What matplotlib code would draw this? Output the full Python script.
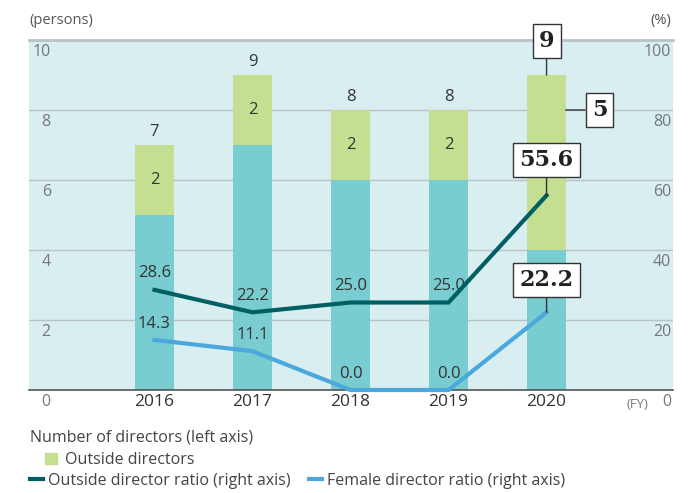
import numpy as np
import matplotlib.pyplot as plt
from matplotlib.patches import Patch
from matplotlib.lines import Line2D

plt.rcParams['font.family'] = ['Open Sans', 'DejaVu Sans']

years = ['2016', '2017', '2018', '2019', '2020']
inside = [5, 7, 6, 6, 4]
outside = [2, 2, 2, 2, 5]
totals = [7, 9, 8, 8, 9]
outside_ratio = [28.6, 22.2, 25.0, 25.0, 55.6]
female_ratio = [14.3, 11.1, 0.0, 0.0, 22.2]

c_inside = '#79cccf'
c_outside = '#c5df92'
c_bg = '#d8eef1'
c_out_line = '#005f63'
c_fem_line = '#4aa8dc'
c_tick = '#777777'

fig = plt.figure(figsize=(6.9, 4.93), dpi=100)
ax = fig.add_axes([29 / 690, 1 - 390 / 493, 644 / 690, 350 / 493])
ax.set_facecolor(c_bg)

x = np.arange(len(years))
w = 0.39
ax.bar(x, inside, w, color=c_inside, zorder=2)
ax.bar(x, outside, w, bottom=inside, color=c_outside, zorder=2)

ax.set_xlim(-1.28, 5.29)
ax.set_ylim(0, 10)
ax.set_yticks([])
ax.set_xticks(x)
ax.set_xticklabels(years, fontsize=12.5, color='#333333')
ax.tick_params(axis='x', length=0, pad=3)
for g in [2, 4, 6, 8]:
    ax.axhline(g, color='#b9c3c6', lw=1, zorder=1)
for s in ['left', 'right']:
    ax.spines[s].set_visible(False)
ax.spines['top'].set_color('#b9c3c6')
ax.spines['top'].set_linewidth(2)
ax.spines['bottom'].set_color('#555555')
ax.spines['bottom'].set_linewidth(1.2)

# axis labels drawn inside the plot area
for v in [0, 2, 4, 6, 8, 10]:
    ax.text(-1.24 if v == 10 else -1.15, v - 0.35, str(v), ha='left', va='center',
            fontsize=11.5, color=c_tick)
    ax.text(5.27, v - 0.35, str(v * 10), ha='right', va='center',
            fontsize=11.5, color=c_tick)
ax.text(-1.28, 10.55, '(persons)', ha='left', va='center', fontsize=10.5, color='#555555')
ax.text(5.27, 10.55, '(%)', ha='right', va='center', fontsize=10.5, color='#555555')
ax.text(4.93, -0.42, '(FY)', ha='center', va='center', fontsize=9.5, color=c_tick)

# bar labels
for i in range(4):
    ax.text(x[i], inside[i] + outside[i] / 2, str(outside[i]), ha='center', va='center',
            fontsize=12, color='#333333', zorder=5)
    ax.text(x[i], totals[i] + 0.38, str(totals[i]), ha='center', va='center',
            fontsize=12, color='#333333', zorder=5)

box = dict(boxstyle='square,pad=0.28', fc='white', ec='#333333', lw=1)
bfont = dict(family='DejaVu Serif', fontweight='bold', fontsize=16, color='#222222')
arr = dict(arrowstyle='-', color='#333333', lw=1, shrinkA=0, shrinkB=0)
ax.annotate(str(totals[4]), xy=(x[4], totals[4]), xytext=(x[4], 9.97), ha='center',
            va='center', bbox=box, arrowprops=arr, annotation_clip=False, zorder=6, **bfont)
ax.annotate(str(outside[4]), xy=(x[4] + w / 2, 8), xytext=(x[4] + 0.54, 8), ha='center',
            va='center', bbox=box, arrowprops=arr, annotation_clip=False, zorder=6, **bfont)

ax2 = ax.twinx()
ax2.set_ylim(0, 100)
ax2.set_yticks([])
for s in ax2.spines.values():
    s.set_visible(False)
ax2.plot(x, outside_ratio, color=c_out_line, lw=3, zorder=4, solid_joinstyle='miter')
ax2.plot(x, female_ratio, color=c_fem_line, lw=3, zorder=4, clip_on=False,
         solid_joinstyle='miter')

for i in range(4):
    ax2.text(x[i], outside_ratio[i] + 4.7, '%.1f' % outside_ratio[i], ha='center',
             va='center', fontsize=12, color='#333333')
    ax2.text(x[i], female_ratio[i] + 4.5, '%.1f' % female_ratio[i], ha='center',
             va='center', fontsize=12, color='#333333')
ax2.annotate('%.1f' % outside_ratio[4], xy=(x[4], outside_ratio[4]), xytext=(x[4], 65.7),
             ha='center', va='center', bbox=box, arrowprops=arr, zorder=6, **bfont)
ax2.annotate('%.1f' % female_ratio[4], xy=(x[4], female_ratio[4]), xytext=(x[4], 31.4),
             ha='center', va='center', bbox=box, arrowprops=arr, zorder=6, **bfont)

# legend
fig.text(30 / 690, 1 - 438 / 493, 'Number of directors (left axis)', ha='left', va='center',
         fontsize=11.5, color='#444444')
leg1 = fig.legend(handles=[Patch(color=c_outside, label='Outside directors')],
                  loc='center left', bbox_to_anchor=(45 / 690, 1 - 460 / 493), frameon=False,
                  fontsize=11.5, handlelength=0.75, handleheight=0.75, handletextpad=0.5,
                  borderpad=0, borderaxespad=0)
for t in leg1.get_texts():
    t.set_color('#444444')
leg2 = fig.legend(handles=[Line2D([], [], color=c_out_line, lw=3,
                                  label='Outside director ratio (right axis)'),
                           Line2D([], [], color=c_fem_line, lw=3,
                                  label='Female director ratio (right axis)')],
                  loc='center left', bbox_to_anchor=(30 / 690, 1 - 481 / 493), frameon=False,
                  ncol=2, fontsize=11.5, handlelength=0.8, handletextpad=0.3,
                  columnspacing=1.2, borderpad=0, borderaxespad=0)
for t in leg2.get_texts():
    t.set_color('#444444')

fig.savefig('out.png', dpi=100)
